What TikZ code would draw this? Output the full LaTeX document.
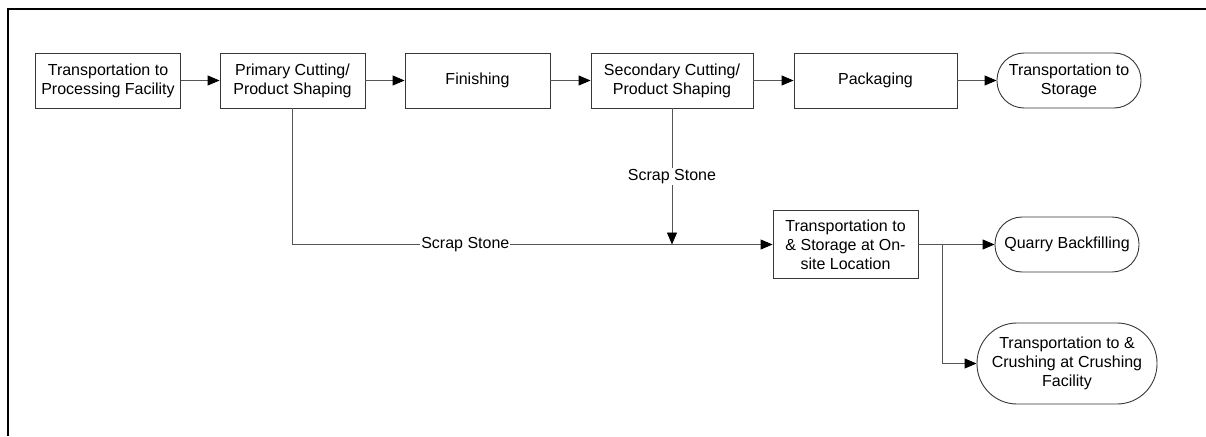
\documentclass[tikz,border=0pt]{standalone}
\usepackage{fontspec}
\setmainfont{Liberation Sans}
\usetikzlibrary{positioning,arrows.meta}
\definecolor{cline}{RGB}{85,85,85}
\definecolor{cedge}{RGB}{55,55,55}

\begin{document}
\begin{tikzpicture}[x=1pt, y=-1pt,
    every node/.style={font=\fontsize{16}{19}\selectfont},
    stepbox/.style={draw=cedge, line width=0.9pt, minimum width=145pt, minimum height=55pt,
                    inner sep=2pt, align=center},
    term/.style={draw=cedge, line width=0.9pt, rounded corners=27pt, minimum width=144pt,
                 minimum height=55pt, inner sep=2pt, align=center},
    arrow/.style={line width=0.9pt, color=cline,
                  arrows={-{Triangle[length=12pt,width=10pt,fill=black,color=black]}}},
    lbl/.style={fill=white, text=black, inner sep=1pt},
  ]
  \useasboundingbox (0,0) rectangle (1206,436);
  % Frame
  \draw[line width=2pt] (8,436) -- (8,9) -- (1206,9);

  % Main line
  \node[stepbox] (trans) at (108,80.5) {Transportation to\\Processing Facility};
  \node[stepbox] (prim) at (292.5,80.5) {Primary Cutting/\\Product Shaping};
  \node[stepbox] (finish) at (477.5,80.5) {Finishing};
  \node[stepbox, minimum width=162pt] (sec) at (672,80.5) {Secondary Cutting/\\Product Shaping};
  \node[stepbox, minimum width=163pt] (pack) at (875.5,80.5) {Packaging};
  \node[term] (store) at (1069,80.5) {Transportation to\\Storage};

  \draw[arrow] (trans) -- (prim);
  \draw[arrow] (prim) -- (finish);
  \draw[arrow] (finish) -- (sec);
  \draw[arrow] (sec) -- (pack);
  \draw[arrow] (pack) -- (store);

  % Scrap stone
  \node[stepbox, minimum height=68pt] (onsite) at (845.5,244.5)
    {Transportation to\\\& Storage at On-\\site Location};
  \coordinate (merge) at (sec.south |- onsite.west);
  \draw[arrow] (prim.south) |- node[lbl, pos=0.68] {Scrap Stone} (onsite.west);
  \draw[arrow] (sec.south) -- node[lbl] {Scrap Stone} (merge);

  % Reuse
  \node[term] (quarry) at (1067,244.5) {Quarry Backfilling};
  \node[term, minimum width=180pt, minimum height=81pt, rounded corners=40pt]
    (crush) at (1067,363.5) {Transportation to \&\\Crushing at Crushing\\Facility};
  \coordinate (split) at ([xshift=24pt]onsite.east);
  \draw[arrow] (onsite.east) -- (quarry.west);
  \draw[arrow] (onsite.east) -- (split) |- (crush.west);
\end{tikzpicture}
\end{document}
